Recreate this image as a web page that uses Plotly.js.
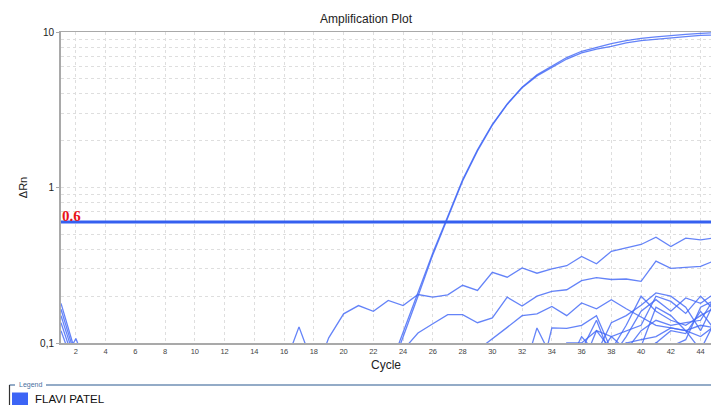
<!DOCTYPE html>
<html>
<head>
<meta charset="utf-8">
<script src="https://cdn.plot.ly/plotly-3.0.1.min.js"></script>
<style>
  html, body { margin: 0; padding: 0; background: #fff; }
  #plot { width: 711px; height: 405px; }
</style>
</head>
<body>
<div id="plot"></div>
<script>
const _ = null;

// Cycle numbers (x axis)
const cycles = [
  1, 2, 3, 4, 5, 6, 7, 8, 9, 10,
  11, 12, 13, 14, 15, 16, 17, 18, 19, 20,
  21, 22, 23, 24, 25, 26, 27, 28, 29, 30,
  31, 32, 33, 34, 35, 36, 37, 38, 39, 40,
  41, 42, 43, 44, 45
];

// Delta Rn per cycle for each well (null = no reading shown)
const ampUpper = [
  _, _, _, _, _, _, _, _, _, _,
  _, _, _, _, _, _, _, _, _, _,
  _, _, 0.065, 0.118, 0.212, 0.38, 0.65, 1.12, 1.75, 2.55,
  3.45, 4.42, 5.3, 6.06, 6.85, 7.52, 8.0, 8.42, 8.8, 9.1,
  9.3, 9.5, 9.65, 9.8, 9.9
];
const ampLower = [
  _, _, _, _, _, _, _, _, _, _,
  _, _, _, _, _, _, _, _, _, _,
  _, _, 0.06, 0.108, 0.2, 0.37, 0.645, 1.1, 1.72, 2.52,
  3.42, 4.38, 5.22, 5.95, 6.7, 7.33, 7.75, 8.08, 8.5, 8.8,
  9.0, 9.15, 9.35, 9.5, 9.55
];
const noiseA = [
  _, _, _, _, _, _, _, _, _, _,
  _, _, _, _, _, _, _, 0.06, 0.108, 0.154,
  0.174, 0.16, 0.188, 0.174, 0.205, 0.197, 0.204, 0.235, 0.218, 0.285,
  0.265, 0.304, 0.281, 0.30, 0.314, 0.36, 0.323, 0.389, 0.407, 0.43,
  0.479, 0.417, 0.472, 0.461, 0.475
];
const noiseB = [
  _, _, _, _, _, _, _, _, _, _,
  _, _, _, _, _, _, _, _, _, _,
  _, _, _, 0.09, 0.116, 0.133, 0.152, 0.152, 0.135, 0.145,
  0.197, 0.173, 0.2, 0.215, 0.22, 0.252, 0.263, 0.256, 0.258, 0.249,
  0.336, 0.302, 0.305, 0.311, 0.34
];
const noiseC = [
  _, _, _, _, _, _, _, _, _, _,
  _, _, _, _, _, _, _, _, _, _,
  _, _, _, _, _, _, _, _, 0.09, 0.106,
  0.126, 0.15, 0.154, 0.172, 0.15, 0.181, 0.166, 0.19, 0.166, 0.147,
  0.13, 0.125, 0.12, 0.13, 0.125
];
const spike17 = [
  _, _, _, _, _, _, _, _, _, _,
  _, _, _, _, _, 0.07, 0.127, 0.07, _, _,
  _, _, _, _, _, _, _, _, _, _,
  _, _, _, _, _, _, _, _, _, _,
  _, _, _, _, _
];
const early1 = [0.18, 0.085, _, _, _, _, _, _, _, _, _, _, _, _, _, _, _, _, _, _, _, _, _, _, _, _, _, _, _, _, _, _, _, _, _, _, _, _, _, _, _, _, _, _, _];
const early2 = [0.165, 0.08, _, _, _, _, _, _, _, _, _, _, _, _, _, _, _, _, _, _, _, _, _, _, _, _, _, _, _, _, _, _, _, _, _, _, _, _, _, _, _, _, _, _, _];
const early3 = [0.15, 0.075, _, _, _, _, _, _, _, _, _, _, _, _, _, _, _, _, _, _, _, _, _, _, _, _, _, _, _, _, _, _, _, _, _, _, _, _, _, _, _, _, _, _, _];
const early4 = [0.135, 0.07, _, _, _, _, _, _, _, _, _, _, _, _, _, _, _, _, _, _, _, _, _, _, _, _, _, _, _, _, _, _, _, _, _, _, _, _, _, _, _, _, _, _, _];
const early5 = [0.12, 0.065, _, _, _, _, _, _, _, _, _, _, _, _, _, _, _, _, _, _, _, _, _, _, _, _, _, _, _, _, _, _, _, _, _, _, _, _, _, _, _, _, _, _, _];
const early6 = [0.07, 0.107, 0.06, _, _, _, _, _, _, _, _, _, _, _, _, _, _, _, _, _, _, _, _, _, _, _, _, _, _, _, _, _, _, _, _, _, _, _, _, _, _, _, _, _, _];

// Late, low-level wells (cycles 31-45; earlier cycles stay below the axis)
const lead30 = [_, _, _, _, _, _, _, _, _, _, _, _, _, _, _, _, _, _, _, _, _, _, _, _, _, _, _, _, _, _];
const late1 = lead30.concat([_, 0.06, 0.05, 0.125, 0.124, 0.13, 0.15, 0.09, 0.13, 0.2, 0.16, 0.14, 0.13, 0.15, 0.17]);
const late2 = lead30.concat([_, 0.06, 0.125, 0.08, 0.07, 0.11, 0.085, 0.135, 0.15, 0.175, 0.21, 0.2, 0.17, 0.12, 0.19]);
const late3 = lead30.concat([_, _, _, _, 0.07, 0.09, 0.14, 0.08, 0.11, 0.16, 0.19, 0.16, 0.195, 0.18, 0.21]);
const late4 = lead30.concat([_, _, _, _, _, 0.07, 0.12, 0.11, 0.12, 0.13, 0.2, 0.185, 0.155, 0.2, 0.16]);
const late5 = lead30.concat([_, _, _, _, _, _, 0.08, 0.11, 0.09, 0.12, 0.14, 0.13, 0.135, 0.14, 0.2]);
const late6 = lead30.concat([_, _, _, _, _, _, _, 0.07, 0.1, 0.105, 0.11, 0.125, 0.12, 0.11, 0.13]);
const late7 = lead30.concat([_, _, _, _, _, _, _, _, 0.08, 0.095, 0.17, 0.15, 0.12, 0.09, 0.14]);
const late8 = lead30.concat([_, _, _, _, _, _, _, _, _, 0.08, 0.1, 0.12, 0.115, 0.16, 0.12]);
const late9 = lead30.concat([_, _, _, 0.07, 0.1, 0.1, 0.12, 0.09, 0.1, 0.09, 0.1, 0.095, 0.105, 0.17, 0.19]);

const wells = [
  ampUpper, ampLower, noiseA, noiseB, noiseC, spike17,
  early1, early2, early3, early4, early5, early6,
  late1, late2, late3, late4, late5, late6, late7, late8, late9
];

// Threshold and axis labels
const threshold = 0.6;
const thresholdCycles = [1, 45];
const yMajorTicks = [0.1, 1, 10];
const yMajorText = ['0,1', '1', '10'];
const yMinorTicks = [0.2, 0.3, 0.4, 0.5, 0.6, 0.7, 0.8, 0.9, 2, 3, 4, 5, 6, 7, 8, 9];
const xTicks = [2, 4, 6, 8, 10, 12, 14, 16, 18, 20, 22, 24, 26, 28, 30, 32, 34, 36, 38, 40, 42, 44];
const legendName = 'FLAVI PATEL';

const CURVE = 'rgba(66, 104, 246, 0.82)';
const BLUE = '#3560f0';

const traces = wells.map(function (w) {
  return {
    type: 'scatter', mode: 'lines', x: cycles, y: w,
    line: { color: CURVE, width: 1.3 },
    connectgaps: false, hoverinfo: 'skip', showlegend: false
  };
});
traces.push({
  type: 'scatter', mode: 'lines',
  x: thresholdCycles, y: [threshold, threshold],
  line: { color: BLUE, width: 3 },
  hoverinfo: 'skip', showlegend: false
});

// Plot area in pixels: left 61, right 711, top 32, bottom 343
const L = 61, R = 711, T = 32, B = 343;
function px(x) { return (x - L) / (R - L); }
function py(y) { return (B - y) / (B - T); }

const frame = '#6f8fb5';
const layout = {
  width: 711, height: 405,
  margin: { l: L, r: 711 - R, t: T, b: 405 - B, pad: 0 },
  paper_bgcolor: '#ffffff', plot_bgcolor: '#ffffff',
  font: { family: 'Liberation Sans, Arial, sans-serif', color: '#222' },
  showlegend: false,
  title: {
    text: 'Amplification Plot',
    font: { size: 12, color: '#222' },
    xref: 'container', x: 366 / 711, xanchor: 'center',
    yref: 'container', y: 1 - 19 / 405, yanchor: 'middle'
  },
  xaxis: {
    range: [1, 44.7],
    tickmode: 'array', tickvals: xTicks,
    tickfont: { size: 7.5, color: '#444' },
    ticks: '', ticklen: 0,
    showgrid: true, gridcolor: '#dedede', griddash: '3px,3px', gridwidth: 1,
    showline: true, linecolor: '#a9a9a9', linewidth: 1.5, mirror: true,
    zeroline: false,
    title: { text: 'Cycle', font: { size: 12, color: '#222' }, standoff: 6 }
  },
  yaxis: {
    type: 'log', range: [-1, 1],
    tickmode: 'array', tickvals: yMajorTicks, ticktext: yMajorText,
    tickfont: { size: 10, color: '#222' },
    ticks: 'outside', ticklen: 3, tickcolor: '#a9a9a9',
    showgrid: true, gridcolor: '#dedede', griddash: '3px,3px', gridwidth: 1,
    minor: {
      tickmode: 'array', tickvals: yMinorTicks, ticks: '',
      showgrid: true, gridcolor: '#dedede', griddash: '3px,3px', gridwidth: 1
    },
    showline: true, linecolor: '#a9a9a9', linewidth: 2,
    zeroline: false,
    title: { text: 'ΔRn', font: { size: 11, color: '#222' }, standoff: 10 }
  },
  annotations: [
    {
      text: '<b>' + String(threshold) + '</b>',
      xref: 'paper', x: 0, xanchor: 'left', xshift: -1,
      yref: 'y', y: Math.log10(threshold), yanchor: 'bottom', yshift: -4,
      showarrow: false,
      font: { family: 'Liberation Serif, DejaVu Serif, serif', size: 15, color: '#e8141a' }
    },
    {
      text: 'Legend',
      xref: 'paper', x: px(30), xanchor: 'center',
      yref: 'paper', y: py(384.5), yanchor: 'middle',
      showarrow: false,
      font: { size: 7, color: '#4a6fa0' }
    },
    {
      text: legendName,
      xref: 'paper', x: px(33), xanchor: 'left',
      yref: 'paper', y: py(398.5), yanchor: 'middle',
      showarrow: false,
      font: { size: 11.5, color: '#111' }
    }
  ],
  shapes: [
    { type: 'line', xref: 'paper', yref: 'paper', x0: px(9.5), x1: px(15), y0: py(385), y1: py(385), line: { color: frame, width: 1.5 } },
    { type: 'line', xref: 'paper', yref: 'paper', x0: px(46), x1: px(711), y0: py(385), y1: py(385), line: { color: frame, width: 1.5 } },
    { type: 'line', xref: 'paper', yref: 'paper', x0: px(9.5), x1: px(9.5), y0: py(385), y1: py(406), line: { color: '#333', width: 1.2 } },
    { type: 'rect', xref: 'paper', yref: 'paper', x0: px(12), x1: px(28), y0: py(392.5), y1: py(406), fillcolor: '#3c64f5', line: { width: 0 } }
  ]
};

Plotly.newPlot('plot', traces, layout, { staticPlot: true, displayModeBar: false });
</script>
</body>
</html>
